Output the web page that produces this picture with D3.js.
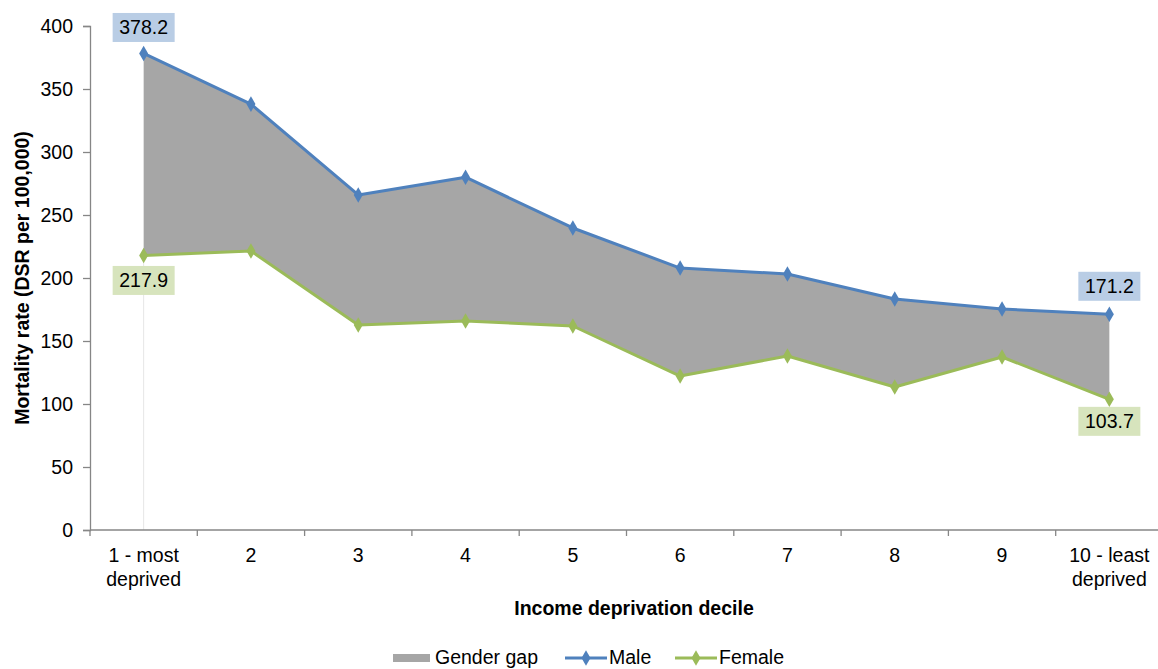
<!DOCTYPE html>
<html>
<head>
<meta charset="utf-8">
<script src="https://cdn.jsdelivr.net/npm/d3@7"></script>
<style>
  html, body { margin: 0; padding: 0; background: #fff; }
  svg { display: block; font-family: "Liberation Sans", Arial, sans-serif; }
</style>
</head>
<body>
<svg id="chart" width="1158" height="669"></svg>
<script>
// Income deprivation deciles (label lines)
const categories = [
  ["1 - most", "deprived"], ["2"], ["3"], ["4"], ["5"],
  ["6"], ["7"], ["8"], ["9"], ["10 - least", "deprived"]
];
// Directly standardised mortality rates per 100,000
const maleValues   = [378.2, 338.0, 265.9, 280.0, 239.7, 207.9, 203.2, 183.3, 175.4, 171.2];
const femaleValues = [217.9, 221.4, 162.7, 165.9, 161.9, 122.2, 138.1, 113.5, 137.3, 103.7];
const yTicks = [0, 50, 100, 150, 200, 250, 300, 350, 400];

const colors = { male: "#4F81BD", female: "#9BBB59", gap: "#A6A6A6", axis: "#868686" };
const fontSize = 19.5;

const svg = d3.select("#chart");
const plot = { left: 90, top: 26, bottom: 530, right: 1163 };

const x = d3.scaleBand().domain(d3.range(categories.length)).range([plot.left, plot.right]);
const y = d3.scaleLinear().domain([0, 400]).range([plot.bottom, plot.top]);
const cx = i => x(i) + x.bandwidth() / 2;

const rows = categories.map((c, i) => ({ i, male: maleValues[i], female: femaleValues[i] }));

// Gender gap band between the two series
svg.append("path")
  .datum(rows)
  .attr("fill", colors.gap)
  .attr("d", d3.area().x(d => cx(d.i)).y0(d => y(d.female)).y1(d => y(d.male)));

// Faint drop line under the first decile
svg.append("line")
  .attr("x1", cx(0)).attr("x2", cx(0))
  .attr("y1", y(femaleValues[0])).attr("y2", y(0))
  .attr("stroke", "#e6e6e6").attr("stroke-width", 1);

// Y axis
const yAxis = svg.append("g").attr("transform", `translate(${plot.left},0)`)
  .call(d3.axisLeft(y).tickValues(yTicks).tickSize(7).tickPadding(10));
yAxis.select(".domain").attr("stroke", colors.axis).attr("stroke-width", 1.3);
yAxis.selectAll(".tick line").attr("stroke", colors.axis).attr("stroke-width", 1.3);
yAxis.selectAll(".tick text").attr("font-size", fontSize).attr("fill", "#000")
  .attr("font-family", "Liberation Sans, Arial, sans-serif");

// X axis with ticks between categories
const xAxisG = svg.append("g");
xAxisG.append("line")
  .attr("x1", plot.left).attr("x2", 1158).attr("y1", plot.bottom).attr("y2", plot.bottom)
  .attr("stroke", colors.axis).attr("stroke-width", 1.3);
xAxisG.selectAll("line.tk")
  .data(d3.range(categories.length + 1))
  .join("line").attr("class", "tk")
  .attr("x1", i => plot.left + i * x.bandwidth()).attr("x2", i => plot.left + i * x.bandwidth())
  .attr("y1", plot.bottom).attr("y2", plot.bottom + 6)
  .attr("stroke", colors.axis).attr("stroke-width", 1.3);
const xl = xAxisG.selectAll("text.xl")
  .data(categories)
  .join("text").attr("class", "xl")
  .attr("text-anchor", "middle").attr("font-size", fontSize).attr("fill", "#000");
xl.each(function (lines, i) {
  d3.select(this).selectAll("tspan").data(lines).join("tspan")
    .attr("x", cx(i)).attr("y", (d, k) => 562 + k * 24).text(d => d);
});

// Axis titles
svg.append("text")
  .attr("transform", `translate(29,278) rotate(-90)`)
  .attr("text-anchor", "middle").attr("font-size", fontSize).attr("font-weight", "bold")
  .text("Mortality rate (DSR per 100,000)");
svg.append("text")
  .attr("x", 634).attr("y", 615)
  .attr("text-anchor", "middle").attr("font-size", fontSize).attr("font-weight", "bold")
  .text("Income deprivation decile");

// Series lines and diamond markers
const diamond = d3.symbol().type(d3.symbolDiamond).size(70);
[["male", colors.male], ["female", colors.female]].forEach(([key, col]) => {
  svg.append("path").datum(rows)
    .attr("fill", "none").attr("stroke", col).attr("stroke-width", 3)
    .attr("stroke-linejoin", "round")
    .attr("d", d3.line().x(d => cx(d.i)).y(d => y(d[key])));
  svg.selectAll(null).data(rows).join("path")
    .attr("transform", d => `translate(${cx(d.i)},${y(d[key])})`)
    .attr("d", diamond).attr("fill", col);
});

// Value labels at the first and last deciles
const labelSpecs = [
  { i: 0, v: maleValues[0], dy: -26, bg: "#B9CDE5" },
  { i: 0, v: femaleValues[0], dy: 25, bg: "#D7E4BD" },
  { i: 9, v: maleValues[9], dy: -28, bg: "#B9CDE5" },
  { i: 9, v: femaleValues[9], dy: 22, bg: "#D7E4BD" }
];
labelSpecs.forEach(s => {
  const yc = y(s.v) + s.dy;
  svg.append("rect")
    .attr("x", cx(s.i) - 31).attr("y", yc - 14.5)
    .attr("width", 62).attr("height", 29).attr("fill", s.bg);
  svg.append("text")
    .attr("x", cx(s.i)).attr("y", yc + 7)
    .attr("text-anchor", "middle").attr("font-size", fontSize)
    .text(s.v.toFixed(1));
});

// Legend
const lg = svg.append("g").attr("font-size", fontSize);
lg.append("rect").attr("x", 393).attr("y", 654).attr("width", 37).attr("height", 8).attr("fill", colors.gap);
lg.append("text").attr("x", 435).attr("y", 664).text("Gender gap");
[[565, "Male", colors.male], [675, "Female", colors.female]].forEach(([lx, name, col]) => {
  lg.append("line").attr("x1", lx).attr("x2", lx + 42).attr("y1", 658).attr("y2", 658)
    .attr("stroke", col).attr("stroke-width", 3);
  lg.append("path").attr("transform", `translate(${lx + 21},658)`).attr("d", diamond).attr("fill", col);
  lg.append("text").attr("x", lx + 44).attr("y", 664).text(name);
});
</script>
</body>
</html>
